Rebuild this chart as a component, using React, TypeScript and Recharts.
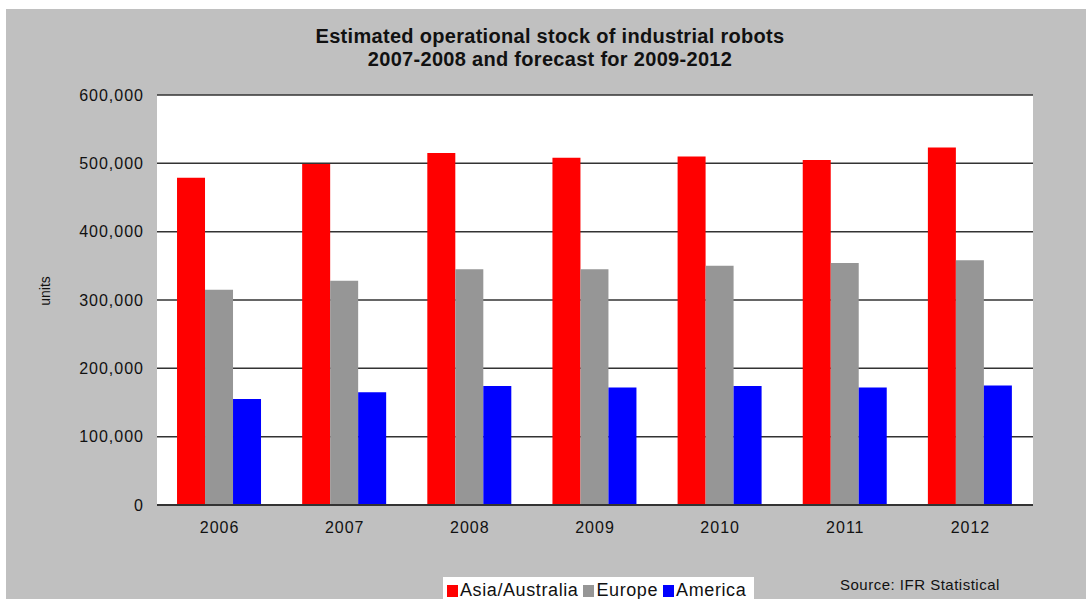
import { BarChart, Bar, XAxis, YAxis, CartesianGrid } from "recharts";

const years = ["2006", "2007", "2008", "2009", "2010", "2011", "2012"];
const asiaAustralia = [479000, 499000, 515000, 508000, 510000, 505000, 523000];
const europe = [315000, 328000, 345000, 345000, 350000, 354000, 358000];
const america = [155000, 165000, 174000, 172000, 174000, 172000, 175000];
const yTicks = [0, 100000, 200000, 300000, 400000, 500000, 600000];

const series = [
  { key: "asia", name: "Asia/Australia", color: "#ff0000" },
  { key: "europe", name: "Europe", color: "#969696" },
  { key: "america", name: "America", color: "#0000ff" },
];

const data = years.map((year, i) => ({
  year,
  asia: asiaAustralia[i],
  europe: europe[i],
  america: america[i],
}));

const font = "'Liberation Sans', Arial, sans-serif";

export default function App() {
  return (
    <div style={{ position: "absolute", left: 0, top: 0, width: 1086, height: 599, background: "#fff", overflow: "hidden" }}>
      <div style={{ position: "absolute", left: 6, top: 9, width: 1080, height: 590, background: "#c0c0c0" }} />
      <div style={{ position: "absolute", left: 0, top: 0, width: 1086, height: 599 }}>
        <BarChart
          width={1086}
          height={599}
          data={data}
          margin={{ top: 95, right: 53, bottom: 64, left: 77 }}
          barCategoryGap="16%"
          barGap={0}
        >
          <CartesianGrid vertical={false} fill="#fff" stroke="#333" strokeWidth={1.5} />
          <XAxis
            dataKey="year"
            height={30}
            axisLine={{ stroke: "#333", strokeWidth: 2 }}
            tickLine={false}
            tickSize={0}
            tickMargin={17}
            tick={{ fill: "#111", fontSize: 16, fontFamily: font, letterSpacing: 1 }}
          />
          <YAxis
            width={80}
            domain={[0, 600000]}
            ticks={yTicks}
            axisLine={false}
            tickLine={false}
            tickSize={0}
            tickMargin={13}
            tickFormatter={(v: number) => v.toLocaleString("en-US")}
            tick={{ fill: "#111", fontSize: 16, fontFamily: font, letterSpacing: 1 }}
          />
          {series.map((s) => (
            <Bar key={s.key} dataKey={s.key} name={s.name} fill={s.color} isAnimationActive={false} />
          ))}
        </BarChart>
      </div>
      <div
        style={{
          position: "absolute",
          left: 0,
          top: 25,
          width: 1100,
          textAlign: "center",
          fontFamily: font,
          fontWeight: "bold",
          fontSize: 20,
          letterSpacing: 0.3,
          lineHeight: "23px",
          color: "#111",
        }}
      >
        Estimated operational stock of industrial robots
        <br />
        2007-2008 and forecast for 2009-2012
      </div>
      <div
        style={{
          position: "absolute",
          left: 45,
          top: 291,
          transform: "translate(-50%, -50%) rotate(-90deg)",
          fontFamily: font,
          fontSize: 14,
          color: "#111",
        }}
      >
        units
      </div>
      <div
        style={{
          position: "absolute",
          left: 443,
          top: 577,
          background: "#fff",
          display: "flex",
          alignItems: "center",
          padding: "3px 8px 4px 4px",
          fontFamily: font,
          fontSize: 18,
          letterSpacing: 0.6,
          color: "#111",
          whiteSpace: "nowrap",
        }}
      >
        {series.map((s, i) => (
          <span key={s.key} style={{ display: "flex", alignItems: "center", marginRight: i < series.length - 1 ? 5 : 0 }}>
            <span style={{ display: "inline-block", width: 11, height: 12, background: s.color, marginRight: 2 }} />
            {s.name}
          </span>
        ))}
      </div>
      <div
        style={{
          position: "absolute",
          left: 840,
          top: 576,
          fontFamily: font,
          fontSize: 15,
          letterSpacing: 0.5,
          color: "#111",
          whiteSpace: "nowrap",
        }}
      >
        Source: IFR Statistical
      </div>
    </div>
  );
}
